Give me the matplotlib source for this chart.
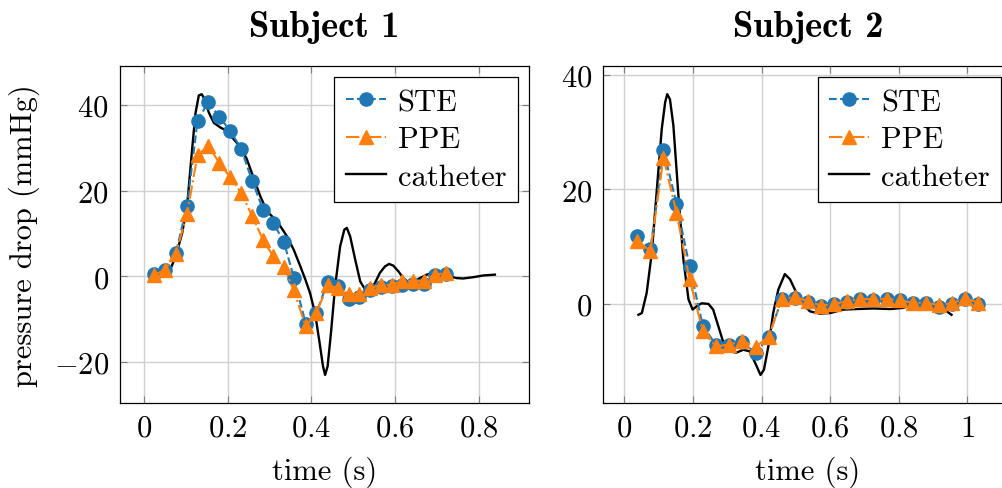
import matplotlib
matplotlib.use('Agg')
import matplotlib.pyplot as plt
from matplotlib.ticker import FuncFormatter, MultipleLocator

plt.rcParams['font.family'] = 'serif'
plt.rcParams['font.serif'] = ['cmr10']
plt.rcParams['mathtext.fontset'] = 'cm'
plt.rcParams['axes.formatter.use_mathtext'] = True
plt.rcParams['font.size'] = 22

# ---- Subject 1 ----
t1 = [0.024, 0.050, 0.076, 0.103, 0.128, 0.154, 0.180, 0.206, 0.232, 0.259,
      0.285, 0.309, 0.335, 0.358, 0.387, 0.412, 0.439, 0.464, 0.490, 0.515,
      0.541, 0.567, 0.592, 0.618, 0.644, 0.669, 0.696, 0.722]
ste1 = [0.5, 1.5, 5.4, 16.5, 36.3, 40.7, 37.2, 34.0, 29.8, 22.2,
        15.5, 12.5, 7.9, -0.3, -11.1, -8.6, -1.3, -2.3, -5.2, -4.8,
        -3.1, -2.6, -2.3, -2.0, -1.8, -1.8, 0.2, 0.5]
ppe1 = [0.3, 1.5, 5.2, 14.6, 28.3, 30.4, 26.5, 23.1, 19.5, 14.0,
        8.4, 4.7, 2.2, -3.3, -11.7, -8.6, -2.1, -2.7, -4.1, -4.1,
        -2.7, -2.0, -2.0, -1.1, -1.1, -1.1, 0.4, 0.8]
cath_t1 = [0.025, 0.050, 0.064, 0.076, 0.091, 0.103, 0.115, 0.123, 0.131, 0.138,
           0.145, 0.155, 0.167, 0.183, 0.199, 0.215, 0.231, 0.246, 0.262, 0.278,
           0.294, 0.310, 0.326, 0.342, 0.358, 0.374, 0.386, 0.397, 0.409, 0.420,
           0.428, 0.433, 0.439, 0.447, 0.457, 0.469, 0.479, 0.485, 0.493, 0.505,
           0.517, 0.529, 0.541, 0.552, 0.564, 0.576, 0.586, 0.596, 0.608, 0.620,
           0.632, 0.644, 0.660, 0.676, 0.692, 0.707, 0.731, 0.747, 0.763, 0.787,
           0.811, 0.839]
cath1 = [0.3, 0.8, 1.9, 4.7, 10.0, 16.4, 29.6, 38.0, 42.2, 42.5,
         41.3, 38.2, 35.8, 34.7, 33.9, 31.9, 30.2, 27.3, 23.0, 18.7,
         15.2, 13.6, 11.7, 9.3, 6.2, 2.3, -0.8, -3.9, -8.6, -15.6,
         -21.0, -23.0, -21.0, -13.2, -2.3, 7.0, 10.9, 11.3, 9.3, 3.9,
         -1.2, -3.1, -3.1, -1.6, 0.8, 2.3, 2.9, 2.5, 1.2, -0.4,
         -1.4, -1.2, -0.4, 0.4, 0.9, 0.8, 0.0, -0.4, -0.5, -0.2,
         0.2, 0.4]

# ---- Subject 2 ----
t2 = [0.038, 0.076, 0.114, 0.152, 0.190, 0.229, 0.267, 0.306, 0.344, 0.383,
      0.421, 0.459, 0.498, 0.535, 0.573, 0.612, 0.650, 0.688, 0.726, 0.765,
      0.803, 0.841, 0.880, 0.917, 0.956, 0.994, 1.032]
ste2 = [11.8, 9.5, 26.9, 17.5, 6.6, -3.9, -7.1, -7.1, -6.7, -8.6,
        -5.7, 0.8, 1.0, 0.3, -0.4, -0.1, 0.3, 0.8, 0.6, 0.8,
        0.6, 0.2, 0.1, -0.6, -0.1, 0.9, -0.1]
ppe2 = [11.0, 9.2, 25.5, 15.9, 4.3, -4.8, -7.4, -7.1, -6.4, -7.5,
        -5.7, 0.9, 1.2, 0.5, -0.3, 0.0, 0.5, 0.9, 0.8, 0.9,
        0.6, 0.2, 0.2, -0.2, 0.1, 1.0, 0.2]
cath_t2 = [0.041, 0.051, 0.065, 0.080, 0.094, 0.109, 0.119, 0.125, 0.133, 0.143,
           0.157, 0.172, 0.187, 0.199, 0.211, 0.225, 0.245, 0.259, 0.274, 0.289,
           0.308, 0.327, 0.347, 0.366, 0.386, 0.397, 0.407, 0.420, 0.434, 0.449,
           0.468, 0.483, 0.502, 0.522, 0.541, 0.570, 0.600, 0.638, 0.677, 0.726,
           0.775, 0.813, 0.843, 0.872, 0.911, 0.940, 0.954]
cath2 = [-1.9, -1.6, 1.9, 8.9, 19.4, 30.5, 35.2, 36.6, 35.7, 31.1,
         19.4, 7.8, 0.8, -1.0, -0.4, 0.1, 0.0, -1.0, -3.9, -6.8,
         -8.3, -8.5, -8.0, -8.3, -10.9, -12.4, -11.5, -7.4, -1.6, 2.5,
         5.2, 4.3, 1.9, -0.1, -1.3, -1.7, -1.6, -1.0, -0.9, -0.8,
         -0.9, -0.7, -0.1, -0.1, -0.3, -1.3, -1.9]

blue = '#1f77b4'
orange = '#ff7f0e'

fig = plt.figure(figsize=(10.03, 4.89), dpi=100)
ax1 = fig.add_axes([0.1196, 0.1738, 0.4078, 0.689])
ax2 = fig.add_axes([0.6015, 0.1738, 0.4078, 0.689])

fmt = FuncFormatter(lambda v, p: '$%g$' % v)

for ax, t, ste, ppe, ct, cv, title in [(ax1, t1, ste1, ppe1, cath_t1, cath1, 'Subject 1'),
                                        (ax2, t2, ste2, ppe2, cath_t2, cath2, 'Subject 2')]:
    ax.plot(t, ste, '--o', color=blue, ms=9.5, lw=1.5, label='STE', zorder=3)
    ax.plot(t, ppe, '-.^', color=orange, ms=9.5, lw=1.5, label='PPE', zorder=4)
    ax.plot(ct, cv, '-', color='black', lw=1.7, label='catheter', zorder=2.5)
    ax.margins(x=0.1, y=0.1)
    ax.grid(True, color='#d0d0d0', lw=1.0)
    ax.set_axisbelow(True)
    ax.tick_params(direction='in', length=5, color='#7f7f7f', top=True, right=True, pad=8)
    ax.xaxis.set_major_locator(MultipleLocator(0.2))
    ax.yaxis.set_major_locator(MultipleLocator(20))
    ax.xaxis.set_major_formatter(fmt)
    ax.yaxis.set_major_formatter(fmt)
    for s in ax.spines.values():
        s.set_linewidth(0.9)
    ax.set_xlabel('time (s)', labelpad=10)
    ax.set_title(title, fontfamily='cmb10', pad=22)
    leg = ax.legend(loc='upper right', fancybox=False, edgecolor='black', framealpha=1,
                    borderaxespad=0.37, handlelength=1.3, handletextpad=0.4,
                    labelspacing=0.32, borderpad=0.37)
    leg.get_frame().set_linewidth(0.9)

ax1.set_ylabel('pressure drop (mmHg)', labelpad=10)

fig.savefig('out.png', dpi=100)
